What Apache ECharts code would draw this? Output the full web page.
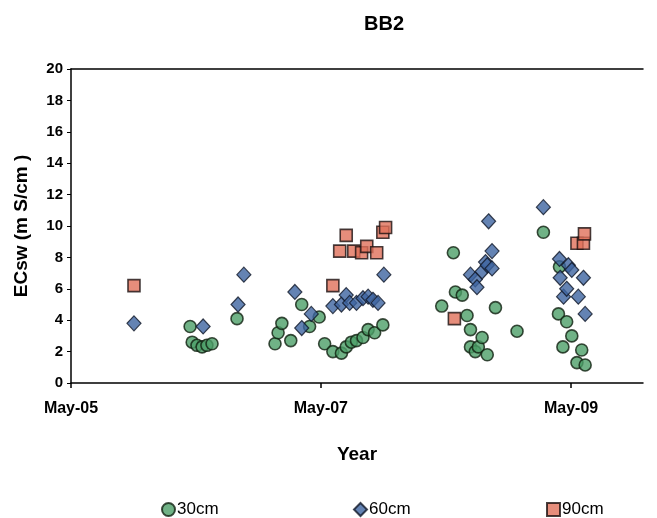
<!DOCTYPE html>
<html><head><meta charset="utf-8">
<script src="https://cdn.jsdelivr.net/npm/echarts@6/dist/echarts.min.js"></script>
<style>html,body{margin:0;padding:0;background:#fff}#c{width:657px;height:518px}</style>
</head><body><div id="c"></div>
<script>
// ---- data ----
const tickDates = ['2005-05-01', '2007-05-01', '2009-05-01'];
const tickLabels = ['May-05', 'May-07', 'May-09'];
const yTicks = [0, 2, 4, 6, 8, 10, 12, 14, 16, 18, 20];

const d30 = ['2006-04-14','2006-04-20','2006-05-04','2006-05-19','2006-06-02','2006-06-17','2006-08-29',
  '2006-12-18','2006-12-27','2007-01-07','2007-02-02','2007-03-06','2007-03-29','2007-04-26','2007-05-12',
  '2007-06-05','2007-06-30','2007-07-14','2007-07-29','2007-08-13','2007-09-01','2007-09-16','2007-10-05','2007-10-29',
  '2008-04-18','2008-05-22','2008-05-28','2008-06-17','2008-07-01','2008-07-11','2008-07-11','2008-07-25','2008-08-03',
  '2008-08-14','2008-08-29','2008-09-22','2008-11-24',
  '2009-02-09','2009-03-25','2009-03-28','2009-04-07','2009-04-18','2009-05-03','2009-05-18','2009-06-01','2009-06-11'];
const v30 = [3.6,2.6,2.4,2.3,2.4,2.5,4.1,
  2.5,3.2,3.8,2.7,5.0,3.6,4.2,2.5,
  2.0,1.9,2.3,2.6,2.7,2.9,3.4,3.2,3.7,
  4.9,8.3,5.8,5.6,4.3,3.4,2.3,2.0,2.3,
  2.9,1.8,4.8,3.3,
  9.6,4.4,7.4,2.3,3.9,3.0,1.3,2.1,1.15];

const d60 = ['2005-11-01','2006-05-22','2006-09-01','2006-09-18',
  '2007-02-14','2007-03-06','2007-04-03','2007-06-05','2007-06-30','2007-07-14','2007-07-24','2007-08-13',
  '2007-09-01','2007-09-16','2007-09-30','2007-10-15','2007-11-01',
  '2008-07-11','2008-07-25','2008-07-30','2008-08-14','2008-08-24','2008-08-29','2008-09-02','2008-09-12','2008-09-12',
  '2009-02-09','2009-03-28','2009-03-30','2009-04-09','2009-04-18','2009-04-23','2009-05-03','2009-05-22','2009-06-06','2009-06-11'];
const v60 = [3.8,3.6,5.0,6.9,
  5.8,3.5,4.4,4.9,5.0,5.6,5.1,5.1,
  5.4,5.5,5.3,5.1,6.9,
  6.9,6.6,6.1,7.1,7.7,7.5,10.3,8.4,7.3,
  11.2,7.9,6.7,5.5,6.0,7.5,7.2,5.5,6.7,4.4];

const d90 = ['2005-11-01','2007-06-05','2007-06-25','2007-07-14','2007-08-05','2007-08-28','2007-09-12',
  '2007-10-11','2007-10-29','2007-11-06','2008-05-25','2009-05-18','2009-06-06','2009-06-09'];
const v90 = [6.2,6.2,8.4,9.4,8.4,8.3,8.7,8.3,9.6,9.9,4.1,8.9,8.9,9.5];

// ---- helpers ----
function ts(s) { const p = s.split('-').map(Number); return Date.UTC(p[0], p[1] - 1, p[2]); }
function pts(ds, vs) { return ds.map((d, i) => [ts(d), vs[i]]); }
const tickTs = tickDates.map(ts);
const xMin = ts('2005-05-01'), xMax = ts('2009-11-27');

const font = 'Liberation Sans, Arial, sans-serif';
const lbl = { fontFamily: font, fontWeight: 'bold', fontSize: 15, color: '#000' };

const chart = echarts.init(document.getElementById('c'), null, { renderer: 'canvas' });
chart.setOption({
  animation: false,
  backgroundColor: '#fff',
  title: {
    text: 'BB2', left: 379, top: 9, textAlign: 'center',
    textStyle: { fontFamily: font, fontWeight: 'bold', fontSize: 20, color: '#000' }
  },
  legend: [
    { data: ['30cm'], left: 156, top: 496 },
    { data: ['60cm'], left: 348, top: 496 },
    { data: ['90cm'], left: 541, top: 496 }
  ].map(l => Object.assign(l, {
    itemWidth: 13, itemHeight: 13, itemGap: 4,
    textStyle: { fontFamily: font, fontSize: 17, color: '#000', padding: [0, 0, 0, -3] }
  })),
  grid: { left: 71, right: 14, top: 69, bottom: 135, containLabel: false },
  xAxis: [{
    type: 'value',
    min: xMin, max: xMax,
    name: 'Year', nameLocation: 'middle', nameGap: 62,
    nameTextStyle: Object.assign({}, lbl, { fontSize: 19 }),
    axisLine: { show: true, onZero: false, lineStyle: { color: '#000', width: 1.5 } },
    axisTick: { show: true, length: 5, inside: false, customValues: tickTs, lineStyle: { color: '#000', width: 1.5 } },
    axisLabel: Object.assign({}, lbl, {
      customValues: tickTs, margin: 18, fontSize: 16,
      formatter: v => { const i = tickTs.indexOf(v); return i >= 0 ? tickLabels[i] : ''; }
    }),
    splitLine: { show: false }
  }, {
    type: 'value', position: 'top',
    min: xMin, max: xMax,
    axisLine: { show: true, onZero: false, lineStyle: { color: '#000', width: 1.5 } },
    axisTick: { show: false }, axisLabel: { show: false }, splitLine: { show: false }
  }],
  yAxis: {
    type: 'value', min: yTicks[0], max: yTicks[yTicks.length - 1], interval: 2,
    name: 'ECsw (m S/cm )', nameLocation: 'middle', nameGap: 40, nameRotate: 90,
    nameTextStyle: Object.assign({}, lbl, { fontSize: 19 }),
    axisLine: { show: true, onZero: false, lineStyle: { color: '#000', width: 1.5 } },
    axisTick: { show: true, length: 4, lineStyle: { color: '#000', width: 1 } },
    axisLabel: Object.assign({}, lbl, { margin: 8 }),
    splitLine: { show: false }
  },
  series: [
    { name: '30cm', type: 'scatter', data: pts(d30, v30), symbol: 'circle', symbolSize: 12,
      itemStyle: { color: '#4c9f68', borderColor: '#102010', borderWidth: 1.6 }, z: 3 },
    { name: '60cm', type: 'scatter', data: pts(d60, v60), symbol: 'diamond', symbolSize: [14, 15],
      itemStyle: { color: '#3d64a0', borderColor: '#101828', borderWidth: 1.2 }, z: 4 },
    { name: '90cm', type: 'scatter', data: pts(d90, v90), symbol: 'rect', symbolSize: 12,
      itemStyle: { color: '#e0705a', borderColor: '#1a1010', borderWidth: 1.6 }, z: 2 }
  ]
});
</script></body></html>
